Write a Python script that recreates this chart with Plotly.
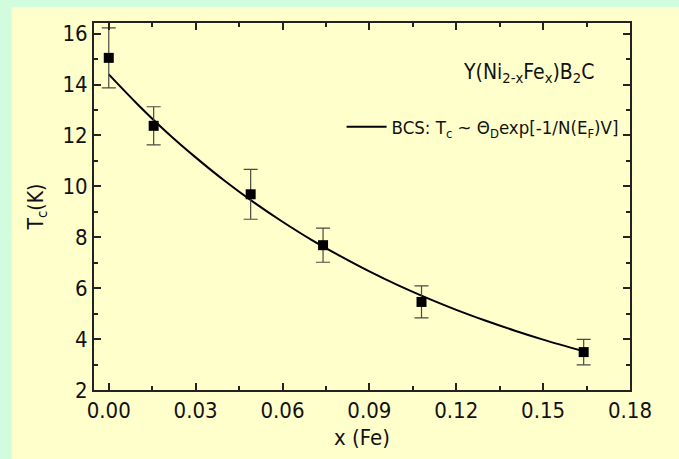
import plotly.graph_objects as go

# Fe substitution level and measured superconducting transition temperature
x_fe = [0.0, 0.0155, 0.049, 0.074, 0.108, 0.164]
tc_k = [15.05, 12.38, 9.69, 7.69, 5.46, 3.49]
tc_err = [1.18, 0.75, 0.98, 0.67, 0.63, 0.50]

# BCS fit curve
fit_x = [0.0, 0.01, 0.02, 0.03, 0.04, 0.05, 0.06, 0.07, 0.08, 0.09,
         0.10, 0.11, 0.12, 0.13, 0.14, 0.15, 0.164]
fit_tc = [14.40, 13.22, 12.13, 11.14, 10.22, 9.38, 8.61, 7.90, 7.26, 6.66,
          6.11, 5.61, 5.15, 4.73, 4.34, 3.98, 3.52]

x_ticks = [0.00, 0.03, 0.06, 0.09, 0.12, 0.15, 0.18]
y_ticks = [2, 4, 6, 8, 10, 12, 14, 16]

FONT = "DejaVu Sans Condensed, sans-serif"
MINT = "#D2FCDE"
CREAM = "#FFFFCC"
INK = "#111111"

fig = go.Figure()

fig.add_trace(go.Scatter(
    x=fit_x, y=fit_tc, mode="lines", line_shape="spline",
    line=dict(color="black", width=2),
    name="BCS: T<sub>c</sub> ~ Θ<sub>D</sub>exp[-1/N(E<sub>F</sub>)V]",
    showlegend=True,
))

fig.add_trace(go.Scatter(
    x=x_fe, y=tc_k, mode="markers",
    marker=dict(symbol="square", size=10, color="black"),
    error_y=dict(type="data", array=tc_err, visible=True,
                 color="#4a4a40", thickness=1.2, width=7),
    showlegend=False,
))

axis_common = dict(
    showline=True, linecolor="#222222", linewidth=2, mirror="ticks",
    ticks="inside", ticklen=7, tickwidth=2, tickcolor="#222222",
    showgrid=False, zeroline=False,
    tickfont=dict(family=FONT, size=22, color=INK),
)

fig.update_xaxes(
    range=[-0.0051, 0.18], tickvals=x_ticks, tickformat=".2f",
    minor=dict(ticks="inside", ticklen=4, tickwidth=2, dtick=0.015,
               tick0=0, tickcolor="#222222"),
    title=dict(text="x (Fe)", font=dict(family=FONT, size=22, color=INK),
               standoff=7),
    **axis_common,
)
fig.update_yaxes(
    range=[2, 16.42], tickvals=y_ticks,
    minor=dict(ticks="inside", ticklen=4, tickwidth=2, dtick=1,
               tick0=0, tickcolor="#222222"),
    title=dict(text="T<sub>c</sub>(K)", font=dict(family=FONT, size=21, color=INK),
               standoff=13),
    **axis_common,
)

L, R, T, B = 94.3, 49, 22.7, 69
W, H = 679, 459
pw, ph = W - L - R, H - T - B

# cream panel behind the whole chart, leaving a mint frame top and left
fig.add_shape(
    type="rect", xref="paper", yref="paper", layer="below",
    x0=(12 - L) / pw, x1=(W - L) / pw,
    y0=-B / ph, y1=(H - 7 - B) / ph,
    fillcolor=CREAM, line=dict(width=0),
)

fig.add_annotation(
    x=0.1683, y=14.45, xref="x", yref="y", showarrow=False,
    xanchor="right", yanchor="middle",
    text="Y(Ni<sub>2-x</sub>Fe<sub>x</sub>)B<sub>2</sub>C",
    font=dict(family=FONT, size=21, color=INK),
)

fig.update_layout(
    width=W, height=H,
    margin=dict(l=L, r=R, t=T, b=B),
    paper_bgcolor=MINT, plot_bgcolor=CREAM,
    font=dict(family=FONT, color=INK),
    legend=dict(
        x=0.988, y=0.716, xanchor="right", yanchor="middle",
        bgcolor="rgba(0,0,0,0)", borderwidth=0,
        font=dict(family=FONT, size=18.5, color=INK),
        itemwidth=40,
    ),
)

fig.write_html("out.html")
